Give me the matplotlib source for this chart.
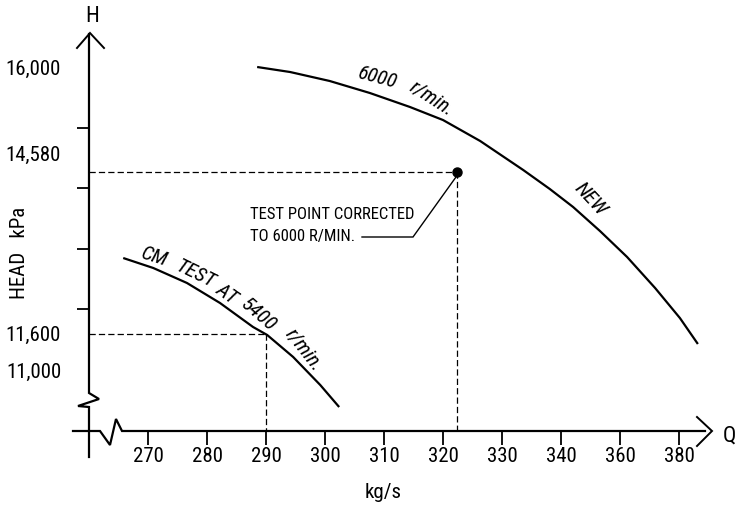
import numpy as np
import matplotlib
matplotlib.use("Agg")
import matplotlib.pyplot as plt
import matplotlib.font_manager as fm
from matplotlib.transforms import Affine2D

# ---------------- data ----------------
x_tick_values = [270, 280, 290, 300, 310, 320, 330, 340, 360, 380]
x_tick_labels = ["270", "280", "290", "300", "310", "320", "330", "340", "360", "380"]
y_minor_ticks = [11000, 12000, 13000, 14000, 15000, 16000]
y_tick_values = [11000, 11600, 14580, 16000]
y_tick_labels = ["11,000", "11,600", "14,580", "16,000"]

new_q = [288.5, 294.1, 300.8, 307.6, 314.4, 320.0, 326.3, 333.6, 338.1, 344.1,
         353.2, 362.4, 371.9, 380.3, 386.4]
new_h = [16000, 15917, 15769, 15571, 15340, 15125, 14779, 14300, 13987, 13690,
         13294, 12865, 12353, 11858, 11429]

cm_q = [265.8, 270.9, 276.6, 282.2, 287.8, 290.2, 294.6, 299.2, 302.4]
cm_h = [12848, 12683, 12436, 12106, 11710, 11578, 11215, 10752, 10389]

test_q, test_h = 322.4, 14260      # test point corrected to 6000 r/min
cm_pt_q, cm_pt_h = 290.0, 11600    # read-off point on CM test curve

# ---------------- fonts ----------------
names = {f.name for f in fm.fontManager.ttflist}
family = "DejaVu Sans"
for cand in ["Liberation Sans Narrow", "DejaVu Sans Condensed", "Roboto Condensed",
             "Liberation Sans"]:
    if cand in names:
        family = cand
        break
plt.rcParams["font.family"] = [family, "DejaVu Sans"]
plt.rcParams["font.weight"] = "normal"

W, H = 736, 505
fig = plt.figure(figsize=(W / 100, H / 100), dpi=100)
PX = Affine2D().scale(1 / W, -1 / H).translate(0, 1) + fig.transFigure

L, R, T, B = 70, 715, 25, 450
ax = fig.add_axes([L / W, 1 - B / H, (R - L) / W, (B - T) / H])

# non-uniform Q axis (equal spacing per tick, 20 kg/s steps above 340)
def q2p(q):
    q = np.asarray(q, float)
    return np.where(q <= 340, (q - 270) / 10.0, 7 + (q - 340) / 20.0)

def p2q(p):
    p = np.asarray(p, float)
    return np.where(p <= 7, 270 + 10.0 * p, 340 + 20.0 * (p - 7))

ax.set_xscale("function", functions=(q2p, p2q))
x0, dx = 148, 59.0
y0, dy = 67, 0.0606
ax.set_xlim(float(p2q((L - x0) / dx)), float(p2q((R - x0) / dx)))
ax.set_ylim(16000 - (B - y0) / dy, 16000 - (T - y0) / dy)

q_axis = float(p2q((89 - x0) / dx))
h_axis = 16000 - (431 - y0) / dy

for s in ax.spines.values():
    s.set_visible(False)
ax.spines["bottom"].set_position(("data", h_axis))
ax.spines["left"].set_position(("data", q_axis))
ax.patch.set_alpha(0)

ax.set_xticks(x_tick_values)
ax.set_xticklabels(x_tick_labels)
ax.xaxis.set_minor_locator(matplotlib.ticker.NullLocator())
ax.tick_params(axis="x", which="major", direction="out", length=10, width=1.3,
               labelsize=15, pad=1.5)
ax.set_yticks(y_tick_values)
ax.set_yticklabels(y_tick_labels)
ax.set_yticks(y_minor_ticks, minor=True)
ax.tick_params(axis="y", which="major", length=0, labelsize=15, pad=20)
ax.tick_params(axis="y", which="minor", direction="out", length=9, width=1.3)

# curves
ax.plot(new_q, new_h, color="black", lw=1.6, solid_capstyle="butt")
ax.plot(cm_q, cm_h, color="black", lw=1.6, solid_capstyle="butt")
ax.plot([test_q], [test_h], "o", color="black", ms=6.5)

dash = (0, (5, 2.5))
ax.plot([q_axis, test_q], [test_h, test_h], color="black", lw=0.9, ls=dash)
ax.plot([test_q, test_q], [test_h, h_axis], color="black", lw=0.9, ls=dash)
ax.plot([q_axis, cm_pt_q], [cm_pt_h, cm_pt_h], color="black", lw=0.9, ls=dash)
ax.plot([cm_pt_q, cm_pt_q], [cm_pt_h, h_axis], color="black", lw=0.9, ls=dash)

# axes lines with breaks and open arrows (pixel coords)
def pline(xs, ys, lw=1.6):
    fig.add_artist(plt.Line2D(xs, ys, transform=PX, color="black", lw=lw,
                              solid_joinstyle="miter"))

pline([73, 100, 110, 116, 122, 705], [431, 431, 445, 419, 431, 431])
pline([697, 712, 697], [417, 431, 446], lw=1.4)
pline([89, 89, 78, 99, 89, 89], [457, 407, 406, 399, 393, 34])
pline([77, 90, 104], [48, 33, 48], lw=1.4)

def t(x, y, s, **kw):
    kw.setdefault("ha", "center")
    kw.setdefault("va", "center")
    fig.text(x / W, 1 - y / H, s, **kw)

t(92, 16, "H", fontsize=16)
t(729, 436, "Q", fontsize=16)
t(383, 493, "kg/s", fontsize=15)
t(20, 253, "HEAD   kPa", fontsize=15, rotation=90)

# annotation
t(250, 215, "TEST POINT CORRECTED", fontsize=12, ha="left")
t(250, 237, "TO 6000 R/MIN.", fontsize=12, ha="left")
pline([362, 413, 456], [237, 237, 177], lw=1.0)

# curve labels
cl = dict(fontsize=15, style="italic")
t(378, 78, "6000", rotation=-15, **cl)
t(432, 98, "r/min.", rotation=-33, **cl)
t(590, 199, "NEW", rotation=-47, **cl)

t(154, 257, "CM", rotation=-18, **cl)
t(195, 274, "TEST", rotation=-26, **cl)
t(227, 294, "AT", rotation=-35, **cl)
t(259, 315, "5400", rotation=-41, **cl)
t(304, 350, "r/min.", rotation=-52, **cl)

fig.savefig("out.png", dpi=100)
